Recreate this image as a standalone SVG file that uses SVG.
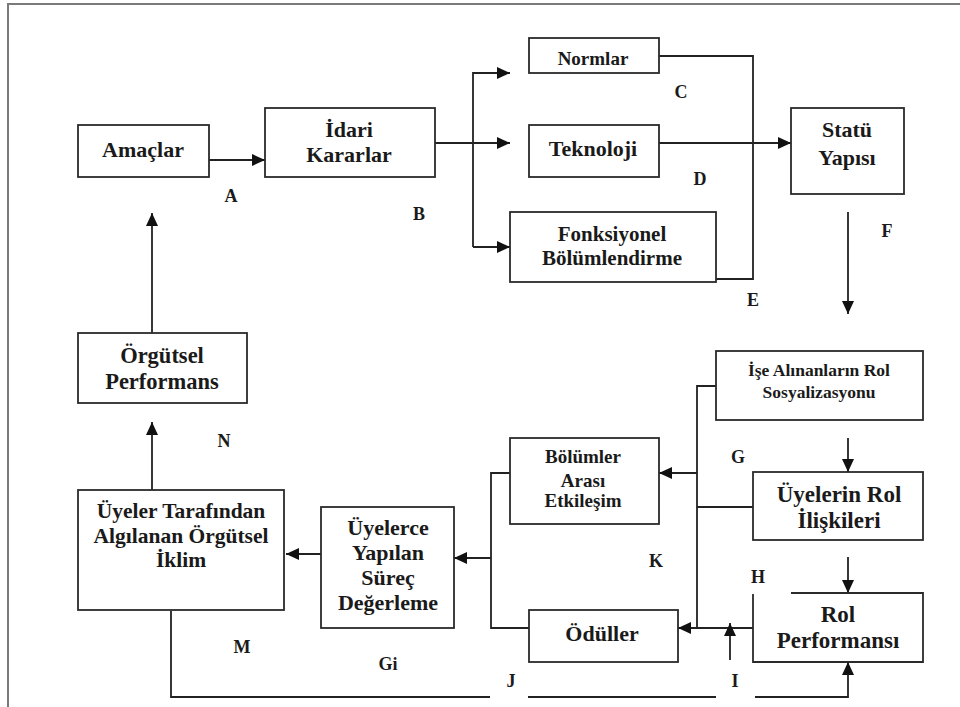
<svg xmlns="http://www.w3.org/2000/svg" width="960" height="707" viewBox="0 0 960 707" font-family="'Liberation Serif', 'Times New Roman', 'DejaVu Serif', serif">
<style>
.frame{fill:none;stroke:#7a7a7a;stroke-width:2}
.box{fill:#fff;stroke:#2a2a2a;stroke-width:1.8}
.ln{fill:none;stroke:#222;stroke-width:1.8}
.arr{marker-end:url(#ah)}
text{font-family:'Liberation Serif','Times New Roman','DejaVu Serif',serif;font-weight:bold;fill:#1a1a1a;text-anchor:middle}
.t22{font-size:22px}
.t19{font-size:19px}
.t17{font-size:17.5px}
.lbl{font-size:18px}
</style>
<defs>
<marker id="ah" markerUnits="userSpaceOnUse" markerWidth="14" markerHeight="12" refX="13" refY="6" orient="auto">
<path d="M0,0 L13,6 L0,12 Z" fill="#111"/>
</marker>
</defs>
<rect width="960" height="707" fill="#fff"/>
<path class="frame" d="M8,707 V4 H960"/>

<g id="connectors">
<path class="ln arr" d="M209,160 H265"/>
<path class="ln" d="M435,143 H473 M473,72 V247"/>
<path class="ln arr" d="M473,73 H510"/>
<path class="ln arr" d="M473,143 H510"/>
<path class="ln arr" d="M473,247 H510"/>
<path class="ln" d="M659,56 H753 V279 H716"/>
<path class="ln arr" d="M659,143 H791"/>
<path class="ln arr" d="M848,212 V314"/>
<path class="ln arr" d="M848,438 V472"/>
<path class="ln arr" d="M848,557 V593"/>
<path class="ln" d="M716,386 H697 V628 M753,507 H697"/>
<path class="ln arr" d="M697,473 H659"/>
<path class="ln arr" d="M753,628 H678"/>
<path class="ln arr" d="M730,660 V623"/>
<path class="ln" d="M510,473 H491 V628 H529"/>
<path class="ln arr" d="M491,558 H454"/>
<path class="ln arr" d="M321,554 H286"/>
<path class="ln arr" d="M152,490 V422"/>
<path class="ln arr" d="M152,333 V213"/>
<path class="ln" d="M171,611 V697 H490 M528,697 H716"/>
<path class="ln arr" d="M755,697 H848 V662"/>
</g>

<g id="amaclar">
<rect class="box" x="78" y="125" width="131" height="52"/>
<text class="t22" x="143" y="157">Amaçlar</text>
</g>
<g id="idari-kararlar">
<rect class="box" x="265" y="108" width="170" height="69"/>
<text class="t22" x="349" y="137">İdari</text>
<text class="t22" x="349" y="162">Kararlar</text>
</g>
<g id="normlar">
<rect class="box" x="529" y="38" width="130" height="35"/>
<text class="t19" x="593" y="65">Normlar</text>
</g>
<g id="teknoloji">
<rect class="box" x="529" y="125" width="130" height="52"/>
<text class="t22" x="593" y="156">Teknoloji</text>
</g>
<g id="fonksiyonel">
<rect class="box" x="510" y="212" width="206" height="70"/>
<text class="t19" x="612" y="241" style="font-size:21px">Fonksiyonel</text>
<text class="t19" x="612" y="265" style="font-size:21px">Bölümlendirme</text>
</g>
<g id="statu-yapisi">
<rect class="box" x="791" y="108" width="113" height="86"/>
<text class="t22" x="847" y="137">Statü</text>
<text class="t22" x="847" y="165">Yapısı</text>
</g>
<g id="ise-alinanlar">
<rect class="box" x="716" y="351" width="207" height="69"/>
<text class="t17" x="819" y="376">İşe Alınanların Rol</text>
<text class="t17" x="819" y="398">Sosyalizasyonu</text>
</g>
<g id="uyelerin-rol">
<rect class="box" x="753" y="472" width="170" height="68"/>
<text class="t22" x="839" y="502" style="font-size:23px">Üyelerin Rol</text>
<text class="t22" x="839" y="528" style="font-size:23px">İlişkileri</text>
</g>
<g id="rol-performansi">
<path class="box" d="M791,593 H923 V662 H753 V594"/>
<text class="t22" x="838" y="622" style="font-size:23px">Rol</text>
<text class="t22" x="838" y="648" style="font-size:23px">Performansı</text>
</g>
<g id="bolumler-arasi">
<rect class="box" x="510" y="438" width="149" height="86"/>
<text class="t19" x="583" y="463">Bölümler</text>
<text class="t19" x="583" y="487">Arası</text>
<text class="t19" x="583" y="507">Etkileşim</text>
</g>
<g id="oduller">
<rect class="box" x="529" y="610" width="149" height="52"/>
<text class="t22" x="602" y="641">Ödüller</text>
</g>
<g id="uyelerce">
<rect class="box" x="321" y="507" width="133" height="121"/>
<text class="t22" x="388" y="535">Üyelerce</text>
<text class="t22" x="388" y="560">Yapılan</text>
<text class="t22" x="388" y="585">Süreç</text>
<text class="t22" x="388" y="610">Değerleme</text>
</g>
<g id="uyeler-tarafindan">
<rect class="box" x="78" y="490" width="206" height="120"/>
<text class="t22" x="181" y="518" style="font-size:21.5px">Üyeler Tarafından</text>
<text class="t22" x="181" y="543" style="font-size:21.5px">Algılanan Örgütsel</text>
<text class="t22" x="181" y="567" style="font-size:21.5px">İklim</text>
</g>
<g id="orgutsel-performans">
<rect class="box" x="78" y="333" width="169" height="70"/>
<text class="t22" x="162" y="363" style="font-size:22.5px">Örgütsel</text>
<text class="t22" x="162" y="389" style="font-size:22.5px">Performans</text>
</g>

<g id="labels">
<text class="lbl" x="231" y="202">A</text>
<text class="lbl" x="419" y="220">B</text>
<text class="lbl" x="681" y="98">C</text>
<text class="lbl" x="700" y="185">D</text>
<text class="lbl" x="753" y="306">E</text>
<text class="lbl" x="887" y="237">F</text>
<text class="lbl" x="738" y="463">G</text>
<text class="lbl" x="758" y="583">H</text>
<text class="lbl" x="735" y="687">I</text>
<text class="lbl" x="511" y="687">J</text>
<text class="lbl" x="656" y="567">K</text>
<text class="lbl" x="242" y="653">M</text>
<text class="lbl" x="224" y="447">N</text>
<text class="lbl" x="388" y="670">Gi</text>
</g>
</svg>
